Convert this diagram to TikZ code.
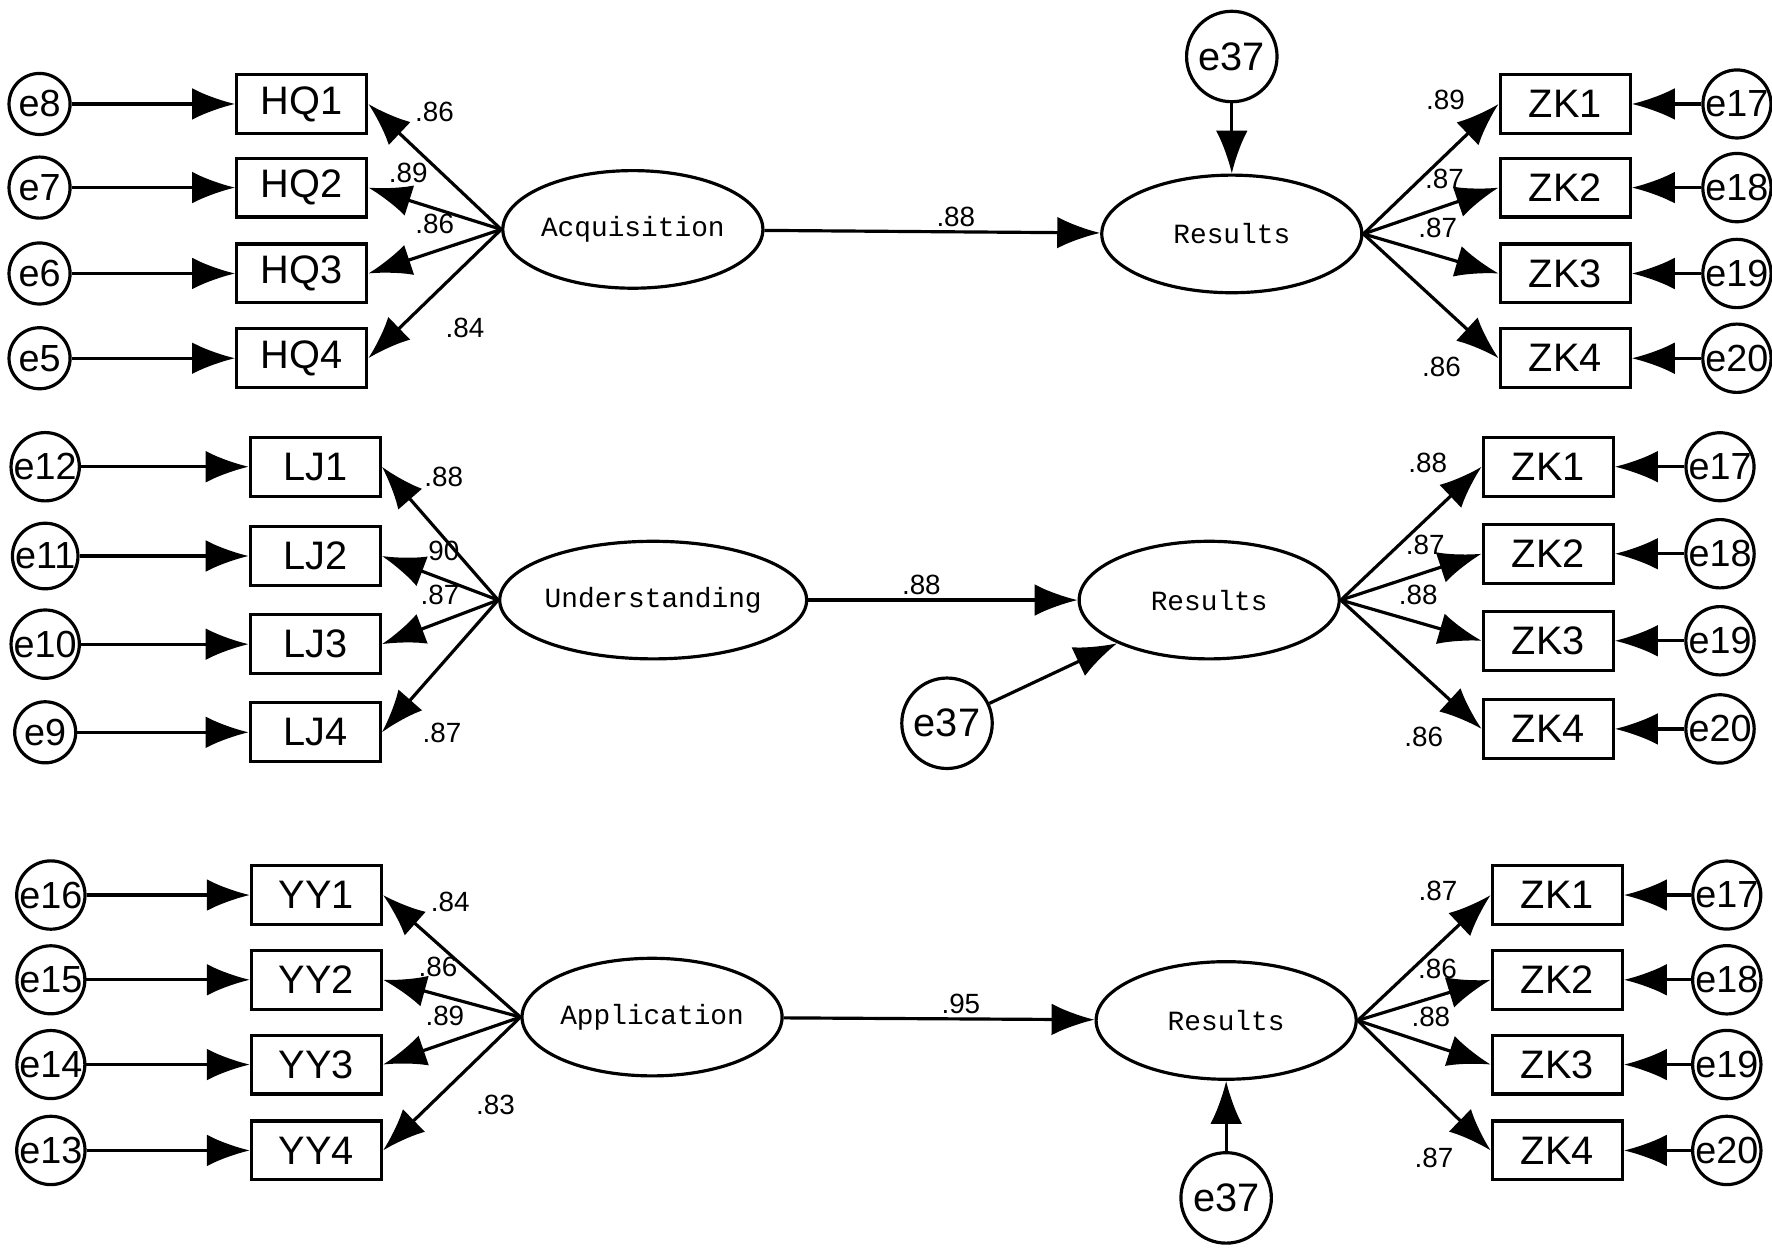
\documentclass[tikz,border=0pt]{standalone}
\usepackage{fontspec}
\setmainfont{Liberation Sans}
\newfontfamily\monofont{Liberation Mono}
\usetikzlibrary{arrows.meta,shapes.geometric}
\tikzset{
  ind/.style={draw,thick,minimum width=1.15cm,minimum height=0.52cm,inner sep=0pt,font=\fontsize{10}{10}\selectfont},
  err/.style={draw,thick,circle,minimum size=0.54cm,inner sep=0pt,font=\fontsize{9.5}{10}\selectfont},
  big/.style={draw,thick,circle,minimum size=0.8cm,inner sep=0pt,font=\fontsize{10}{10}\selectfont},
  lat/.style={draw,thick,ellipse,minimum width=2.3cm,minimum height=1.04cm,inner sep=0pt,font=\monofont\fontsize{7}{7}\selectfont},
  arr/.style={thick,-{Latex[length=0.38cm,width=0.28cm]}},
  ld/.style={font=\fontsize{7}{7}\selectfont,inner sep=1pt}
}
\begin{document}
\begin{tikzpicture}[x=0.01cm,y=-0.01cm]
  \useasboundingbox (0,0) rectangle (1568,1112);

  % block one
  \node[lat] (acq) at (560,203) {Acquisition};
  \node[lat] (res1) at (1090,207) {Results};
  \node[big] (d1) at (1090,50) {e37};
  \draw[arr] (acq) -- node[ld,above,pos=0.57] {.88} (res1);
  \draw[arr] (d1) -- (res1);
  \foreach \i/\y/\e in {1/92/8,2/166/7,3/242/6,4/317/5} {
    \node[ind] (hq\i) at (267,\y) {HQ\i};
    \node[err] (e\e) at (35,\y) {e\e};
    \draw[arr] (e\e) -- (hq\i);
  }
  \foreach \i/\y/\e in {1/92/17,2/166/18,3/242/19,4/317/20} {
    \node[ind] (zka\i) at (1385,\y) {ZK\i};
    \node[err] (ea\e) at (1537,\y) {e\e};
    \draw[arr] (ea\e) -- (zka\i);
  }
  \draw[arr] (acq.west) -- (hq1.east) node[ld,pos=0.75,above right=2pt] {.86};
  \draw[arr] (acq.west) -- (hq2.east) node[ld,pos=0.7,above=3pt] {.89};
  \draw[arr] (acq.west) -- (hq3.east) node[ld,pos=0.5,above=3pt] {.86};
  \draw[arr] (acq.west) -- (hq4.east) node[ld,pos=0.55,below right=3pt] {.84};
  \draw[arr] (res1.east) -- (zka1.west) node[ld,pos=0.85,above left=2pt] {.89};
  \draw[arr] (res1.east) -- (zka2.west) node[ld,pos=0.6,above=3pt] {.87};
  \draw[arr] (res1.east) -- (zka3.west) node[ld,pos=0.55,above=3pt] {.87};
  \draw[arr] (res1.east) -- (zka4.west) node[ld,pos=0.85,below left=3pt] {.86};

  % block two
  \node[lat] (und) at (578,531) {Understanding};
  \node[lat] (res2) at (1070,531) {Results};
  \node[big] (d2) at (838,640) {e37};
  \draw[arr] (und) -- node[ld,above,pos=0.42] {.88} (res2);
  \draw[arr] (d2) -- (res2);
  \foreach \i/\y/\e in {1/413/12,2/492/11,3/570/10,4/648/9} {
    \node[ind] (lj\i) at (279,\y) {LJ\i};
    \node[err] (e\e) at (40,\y) {e\e};
    \draw[arr] (e\e) -- (lj\i);
  }
  \foreach \i/\y/\e in {1/413/17,2/490/18,3/567/19,4/645/20} {
    \node[ind] (zkb\i) at (1370,\y) {ZK\i};
    \node[err] (eb\e) at (1522,\y) {e\e};
    \draw[arr] (eb\e) -- (zkb\i);
  }
  \draw[arr] (und.west) -- (lj1.east) node[ld,pos=0.75,above right=2pt] {.88};
  \draw[arr] (und.west) -- (lj2.east) node[ld,pos=0.5,above=3pt] {.90};
  \draw[arr] (und.west) -- (lj3.east) node[ld,pos=0.5,above=3pt] {.87};
  \draw[arr] (und.west) -- (lj4.east) node[ld,pos=0.8,below right=3pt] {.87};
  \draw[arr] (res2.east) -- (zkb1.west) node[ld,pos=0.85,above left=2pt] {.88};
  \draw[arr] (res2.east) -- (zkb2.west) node[ld,pos=0.6,above=3pt] {.87};
  \draw[arr] (res2.east) -- (zkb3.west) node[ld,pos=0.55,above=3pt] {.88};
  \draw[arr] (res2.east) -- (zkb4.west) node[ld,pos=0.85,below left=3pt] {.86};

  % block three
  \node[lat] (app) at (577,900) {Application};
  \node[lat] (res3) at (1085,903) {Results};
  \node[big] (d3) at (1085,1060) {e37};
  \draw[arr] (app) -- node[ld,above,pos=0.57] {.95} (res3);
  \draw[arr] (d3) -- (res3);
  \foreach \i/\y/\e in {1/792/16,2/867/15,3/942/14,4/1018/13} {
    \node[ind] (yy\i) at (280,\y) {YY\i};
    \node[err] (e\e) at (45,\y) {e\e};
    \draw[arr] (e\e) -- (yy\i);
  }
  \foreach \i/\y/\e in {1/792/17,2/867/18,3/942/19,4/1018/20} {
    \node[ind] (zkc\i) at (1378,\y) {ZK\i};
    \node[err] (ec\e) at (1528,\y) {e\e};
    \draw[arr] (ec\e) -- (zkc\i);
  }
  \draw[arr] (app.west) -- (yy1.east) node[ld,pos=0.75,above right=2pt] {.84};
  \draw[arr] (app.west) -- (yy2.east) node[ld,pos=0.6,above=3pt] {.86};
  \draw[arr] (app.west) -- (yy3.east) node[ld,pos=0.55,above=3pt] {.89};
  \draw[arr] (app.west) -- (yy4.east) node[ld,pos=0.45,below right=3pt] {.83};
  \draw[arr] (res3.east) -- (zkc1.west) node[ld,pos=0.85,above left=2pt] {.87};
  \draw[arr] (res3.east) -- (zkc2.west) node[ld,pos=0.6,above=3pt] {.86};
  \draw[arr] (res3.east) -- (zkc3.west) node[ld,pos=0.55,above=3pt] {.88};
  \draw[arr] (res3.east) -- (zkc4.west) node[ld,pos=0.85,below left=3pt] {.87};
\end{tikzpicture}
\end{document}
